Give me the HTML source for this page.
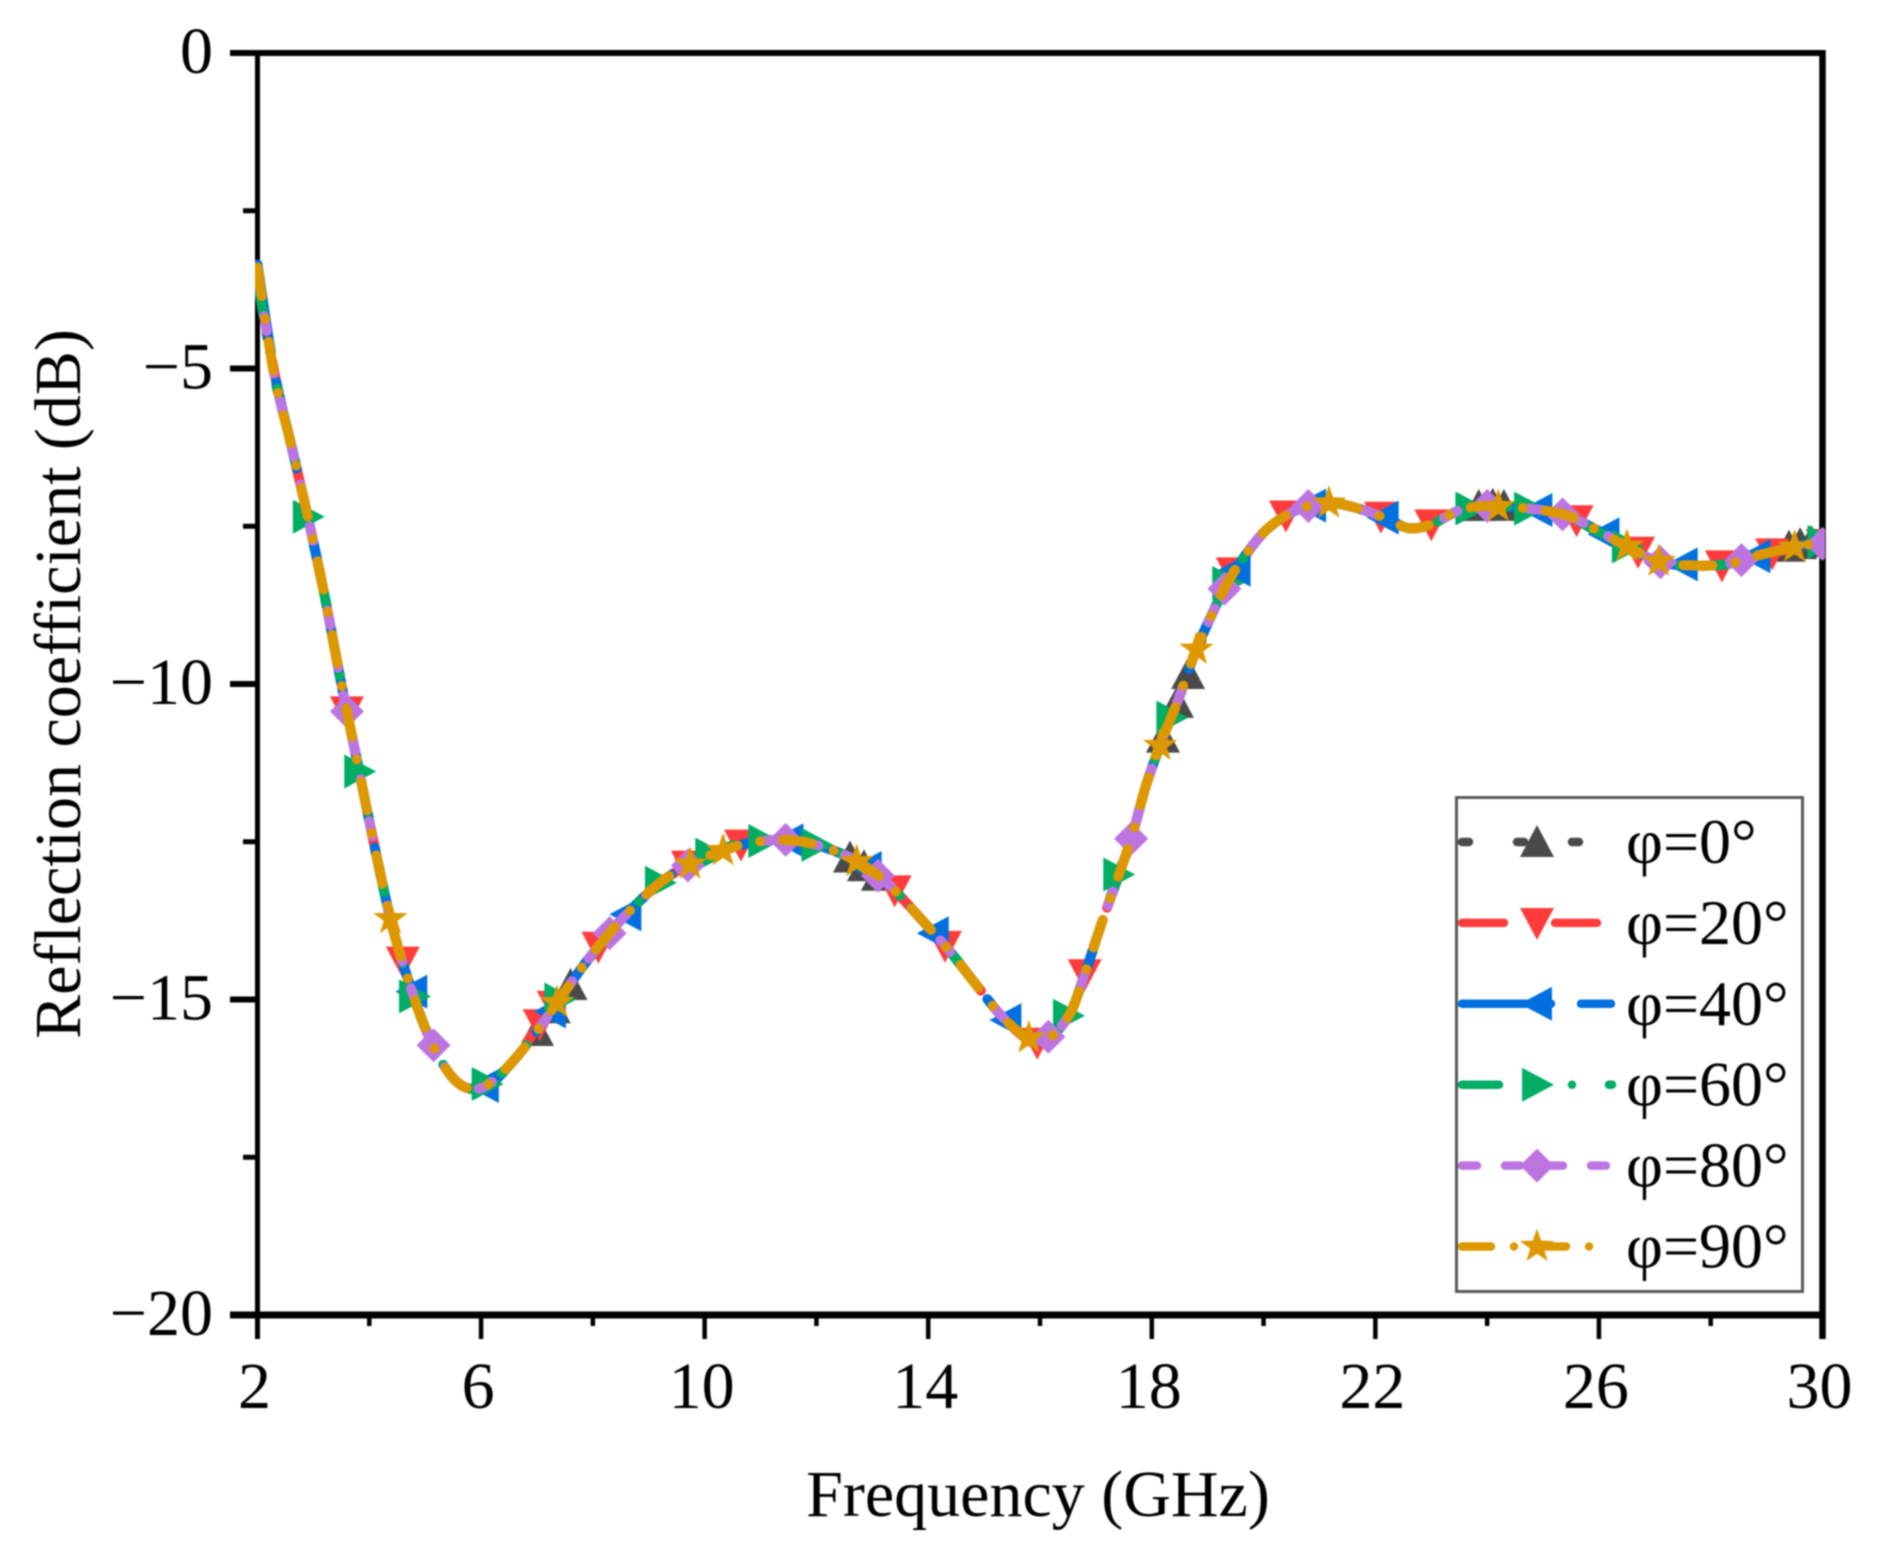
<!DOCTYPE html>
<html lang="en">
<head>
<meta charset="utf-8">
<title>Reflection coefficient vs frequency</title>
<style>
html,body{margin:0;padding:0;background:#fff;}
svg{display:block;filter:blur(0.7px);}
text{font-family:"Liberation Serif",serif;fill:#000;}
</style>
</head>
<body>
<svg id="chart" xmlns="http://www.w3.org/2000/svg" width="1880" height="1553" viewBox="0 0 1880 1553">
  <defs><clipPath id="plot-clip"><rect x="255" y="40" width="1570" height="1290"/></clipPath></defs>
  <rect x="0" y="0" width="1880" height="1553" fill="#fff"/>
  <g id="axes"></g>
  <g id="series" clip-path="url(#plot-clip)"></g>
  <text x="1038" y="1516" font-size="66" text-anchor="middle">Frequency (GHz)</text>
  <text transform="translate(80,684) rotate(-90)" font-size="66" text-anchor="middle">Reflection coefficient (dB)</text>
  <g id="legend">
    <rect x="1456.5" y="797.5" width="346" height="494" fill="#fff" stroke="#5a5a5a" stroke-width="3"/>
  </g>
</svg>
<script>
const frequencies = [2.0,2.3,2.6,2.9,3.2,3.5,3.8,4.1,4.4,4.7,5.0,5.3,5.6,5.9,6.2,6.6,7.0,7.4,7.8,8.2,8.6,9.2,9.75,10.3,10.8,11.45,12,12.6,13.05,13.4,14,14.4,14.8,15.3,15.75,16,16.25,16.55,16.8,17.1,17.4,17.65,17.9,18.2,18.45,18.8,19.1,19.35,19.6,20,20.4,20.8,21.2,21.7,22.2,22.6,23,23.5,24,24.75,25.4,25.9,26.5,27.1,27.7,28.3,28.9,29.5,30];

const phi0 = [-3.55,-5.1,-6.2,-7.35,-8.6,-10.0,-11.3,-12.6,-13.8,-14.7,-15.45,-16.0,-16.33,-16.42,-16.3,-15.95,-15.5,-15.02,-14.52,-14.05,-13.65,-13.15,-12.85,-12.65,-12.52,-12.47,-12.55,-12.75,-13.0,-13.27,-13.85,-14.25,-14.7,-15.25,-15.6,-15.65,-15.55,-15.2,-14.6,-13.8,-13.05,-12.4,-11.6,-10.85,-10.3,-9.5,-8.85,-8.4,-8.05,-7.6,-7.33,-7.18,-7.13,-7.22,-7.38,-7.53,-7.47,-7.25,-7.15,-7.22,-7.32,-7.53,-7.82,-8.07,-8.12,-8.1,-7.95,-7.8,-7.72];
const phi20 = [-3.45,-5.05,-6.2,-7.35,-8.6,-10.0,-11.3,-12.6,-13.8,-14.7,-15.45,-16.0,-16.33,-16.42,-16.3,-15.95,-15.45,-14.98,-14.5,-14.05,-13.65,-13.15,-12.85,-12.65,-12.5,-12.47,-12.55,-12.75,-13.0,-13.27,-13.85,-14.25,-14.7,-15.25,-15.62,-15.7,-15.55,-15.2,-14.6,-13.8,-13.05,-12.4,-11.6,-10.85,-10.3,-9.45,-8.85,-8.35,-8.05,-7.6,-7.33,-7.18,-7.13,-7.22,-7.38,-7.53,-7.47,-7.25,-7.18,-7.22,-7.32,-7.53,-7.82,-8.07,-8.12,-8.12,-7.97,-7.85,-7.78];
const phi40 = [-3.35,-5.05,-6.2,-7.35,-8.6,-10.0,-11.3,-12.6,-13.8,-14.7,-15.45,-16.0,-16.33,-16.42,-16.32,-15.95,-15.5,-15.0,-14.5,-14.05,-13.65,-13.15,-12.85,-12.65,-12.52,-12.47,-12.55,-12.75,-13.0,-13.27,-13.85,-14.25,-14.7,-15.25,-15.6,-15.65,-15.55,-15.2,-14.6,-13.8,-13.05,-12.4,-11.6,-10.85,-10.3,-9.45,-8.85,-8.4,-8.05,-7.6,-7.33,-7.18,-7.13,-7.22,-7.38,-7.53,-7.47,-7.25,-7.18,-7.22,-7.32,-7.53,-7.82,-8.07,-8.12,-8.1,-7.95,-7.83,-7.72];
const phi60 = [-3.6,-5.1,-6.2,-7.35,-8.6,-10.0,-11.3,-12.6,-13.8,-14.7,-15.45,-16.0,-16.33,-16.42,-16.3,-15.95,-15.5,-15.0,-14.52,-14.05,-13.65,-13.15,-12.85,-12.62,-12.5,-12.47,-12.55,-12.75,-13.0,-13.27,-13.85,-14.25,-14.7,-15.25,-15.6,-15.65,-15.55,-15.2,-14.6,-13.8,-13.02,-12.4,-11.6,-10.85,-10.32,-9.45,-8.85,-8.4,-8.05,-7.6,-7.33,-7.18,-7.13,-7.22,-7.4,-7.53,-7.47,-7.25,-7.17,-7.22,-7.32,-7.55,-7.82,-8.07,-8.12,-8.1,-7.95,-7.83,-7.75];
const phi80 = [-3.5,-5.1,-6.2,-7.35,-8.6,-10.0,-11.3,-12.6,-13.8,-14.7,-15.45,-16.0,-16.33,-16.42,-16.3,-15.95,-15.5,-15.0,-14.5,-14.05,-13.65,-13.15,-12.85,-12.65,-12.52,-12.47,-12.55,-12.75,-13.0,-13.27,-13.85,-14.25,-14.7,-15.25,-15.6,-15.65,-15.55,-15.2,-14.6,-13.8,-13.05,-12.4,-11.6,-10.85,-10.3,-9.45,-8.85,-8.4,-8.05,-7.6,-7.33,-7.18,-7.13,-7.22,-7.38,-7.53,-7.47,-7.25,-7.18,-7.22,-7.32,-7.53,-7.82,-8.07,-8.12,-8.1,-7.95,-7.83,-7.78];
const phi90 = [-3.4,-5.1,-6.2,-7.35,-8.6,-10.0,-11.3,-12.6,-13.8,-14.7,-15.45,-16.0,-16.33,-16.42,-16.3,-15.95,-15.5,-15.0,-14.5,-14.05,-13.65,-13.15,-12.85,-12.65,-12.52,-12.47,-12.55,-12.75,-13.0,-13.27,-13.85,-14.25,-14.7,-15.25,-15.6,-15.65,-15.55,-15.2,-14.6,-13.8,-13.05,-12.4,-11.6,-10.85,-10.3,-9.45,-8.85,-8.4,-8.05,-7.6,-7.33,-7.18,-7.13,-7.22,-7.38,-7.53,-7.47,-7.25,-7.18,-7.22,-7.32,-7.53,-7.82,-8.07,-8.12,-8.1,-7.95,-7.83,-7.75];

const markersPhi0 = [7.0,7.3,7.6,12.6,12.85,13.1,18.2,18.45,18.65,23.85,24.1,24.3,29.4,29.6,29.8];
const markersPhi20 = [3.6,4.6,7.05,7.3,8.1,9.7,10.65,13.4,14.3,15.95,16.8,19.45,20.4,22.1,23.0,25.6,26.7,28.2,29.1,30];
const markersPhi40 = [4.77,6.05,7.25,8.6,11.5,12.9,14.1,15.4,19.5,20.85,22.15,24.9,26.1,27.5,28.8,30];
const markersPhi60 = [2.9,3.82,4.8,6.1,7.4,9.2,10.1,11.05,12.0,16.5,17.4,18.35,19.35,23.7,24.75,26.5,30];
const markersPhi80 = [3.6,5.15,8.3,9.7,11.45,13.1,16.15,17.63,19.3,20.8,24.0,25.35,27.1,28.55,30];
const markersPhi90 = [4.38,7.36,9.74,10.33,12.72,15.8,18.15,18.8,21.17,24.2,26.5,27.07,29.5];

const seriesNames = ["φ=0°","φ=20°","φ=40°","φ=60°","φ=80°","φ=90°"];
const seriesValues = [phi0,phi20,phi40,phi60,phi80,phi90];
const seriesMarkers = [markersPhi0,markersPhi20,markersPhi40,markersPhi60,markersPhi80,markersPhi90];
const seriesColors = ["#4a4a4a","#ff3b3b","#0070e0","#00ad65","#bc75e0","#dd9800"];
const seriesDashes = ["7 48","42 51","89 30","37 36 0 37 0 37","15 28","29 23 0 23"];
const seriesShapes = ["up","down","left","right","diamond","star"];
const xTickLabels = [2,6,10,14,18,22,26,30];
const xMinorTicks = [4,8,12,16,20,24,28];
const yTickLabels = [0,-5,-10,-15,-20];
const yMinorTicks = [-2.5,-7.5,-12.5,-17.5];

const NS = "http://www.w3.org/2000/svg";
const plotL = 257.5, plotR = 1822.5, plotT = 53, plotB = 1315;
function xScale(v){ return plotL + (v - 2) / 28 * (plotR - plotL); }
function yScale(v){ return plotT + (0 - v) / 20 * (plotB - plotT); }

function mk(tag, attrs, parent){
  const el = document.createElementNS(NS, tag);
  for (const k in attrs) el.setAttribute(k, attrs[k]);
  parent.appendChild(el);
  return el;
}

const axes = document.getElementById("axes");

function axisLine(x1,y1,x2,y2,w,name){
  const el = mk("line",{x1:x1,y1:y1,x2:x2,y2:y2,stroke:"#000","stroke-width":w},axes);
  
  
}
axisLine(plotL,plotT-3,plotL,1339,5,"y-axis-line");
axisLine(plotR,plotT-3,plotR,1339,6.5,"right-axis-line");
axisLine(230,plotT,plotR+3,plotT,6,"top-axis-line");
axisLine(230,plotB,plotR+3,plotB,7,"x-axis-line");

xTickLabels.forEach(function(v){
  const x = xScale(v);
  axisLine(x,plotB,x,1339,4.5,"x-major-tick");
  const t = mk("text",{x:x-3,y:1408,"font-size":66,"text-anchor":"middle"},axes);
  t.textContent = String(v);
  
  
});
xMinorTicks.forEach(function(v){
  const x = xScale(v);
  axisLine(x,plotB,x,1326,4.5,"x-minor-tick");
});
yTickLabels.forEach(function(v){
  const y = yScale(v);
  axisLine(230,y,plotL,y,6,"y-major-tick");
  const t = mk("text",{x:213,y:y+20,"font-size":66,"text-anchor":"end"},axes);
  t.textContent = v < 0 ? "\u2212" + Math.abs(v) : String(v);
  
  
});
yMinorTicks.forEach(function(v){
  const y = yScale(v);
  axisLine(243,y,plotL,y,5,"y-minor-tick");
});

function curvePath(xs, ys){
  const p = xs.map(function(x,i){ return [xScale(x), yScale(ys[i])]; });
  let d = "M" + p[0][0].toFixed(2) + " " + p[0][1].toFixed(2);
  for (let i = 0; i < p.length - 1; i++){
    const a = p[Math.max(i-1,0)], b = p[i], c = p[i+1], e = p[Math.min(i+2,p.length-1)];
    const c1x = b[0] + (c[0]-a[0])/6, c1y = b[1] + (c[1]-a[1])/6;
    const c2x = c[0] - (e[0]-b[0])/6, c2y = c[1] - (e[1]-b[1])/6;
    d += "C" + c1x.toFixed(2) + " " + c1y.toFixed(2) + " " + c2x.toFixed(2) + " " + c2y.toFixed(2) + " " + c[0].toFixed(2) + " " + c[1].toFixed(2);
  }
  return d;
}

function valueAt(f, ys){
  for (let i = 0; i < frequencies.length - 1; i++){
    if (f <= frequencies[i+1]){
      const t = (f - frequencies[i]) / (frequencies[i+1] - frequencies[i]);
      return ys[i] + t * (ys[i+1] - ys[i]);
    }
  }
  return ys[ys.length-1];
}

function shapePoints(shape, cx, cy){
  const r = 17;
  let pts;
  if (shape === "up") pts = [[0,-r],[r,r*0.88],[-r,r*0.88]];
  else if (shape === "down") pts = [[0,r],[r,-r*0.88],[-r,-r*0.88]];
  else if (shape === "left") pts = [[-r,0],[r*0.88,-r],[r*0.88,r]];
  else if (shape === "right") pts = [[r,0],[-r*0.88,-r],[-r*0.88,r]];
  else if (shape === "diamond") pts = [[0,-r],[r,0],[0,r],[-r,0]];
  else {
    pts = [];
    for (let i = 0; i < 10; i++){
      const rad = i % 2 === 0 ? r + 1 : (r + 1) * 0.4;
      const ang = -Math.PI/2 + i * Math.PI/5;
      pts.push([rad*Math.cos(ang), rad*Math.sin(ang)]);
    }
  }
  return pts.map(function(q){ return (cx+q[0]).toFixed(2) + "," + (cy+q[1]).toFixed(2); }).join(" ");
}

const seriesGroup = document.getElementById("series");
seriesValues.forEach(function(vals, s){
  const g = mk("g",{},seriesGroup);
  
  
  seriesMarkers[s].forEach(function(f){
    const m = mk("polygon",{points:shapePoints(seriesShapes[s], xScale(f), yScale(valueAt(f, vals))),fill:seriesColors[s]},g);
    
    
  });
  const path = mk("path",{d:curvePath(frequencies, vals),fill:"none",stroke:seriesColors[s],"stroke-width":10,"stroke-linecap":"round","stroke-linejoin":"round","stroke-dasharray":seriesDashes[s]},g);
  
  
});

const legend = document.getElementById("legend");
const legendLineEnds = [1581,1597,1611,1612,1606,1593];
seriesNames.forEach(function(name, s){
  const y = 842 + s * 80.9;
  const ln = mk("line",{x1:1462,y1:y,x2:legendLineEnds[s],y2:y,stroke:seriesColors[s],"stroke-width":8.5,"stroke-linecap":"round","stroke-dasharray":seriesDashes[s]},legend);
  
  
  const m = mk("polygon",{points:shapePoints(seriesShapes[s], 1537, y),fill:seriesColors[s]},legend);
  
  
  const t = mk("text",{x:1626,y:y+21,"font-size":64},legend);
  t.textContent = name;
  
  
});
</script>
</body>
</html>
